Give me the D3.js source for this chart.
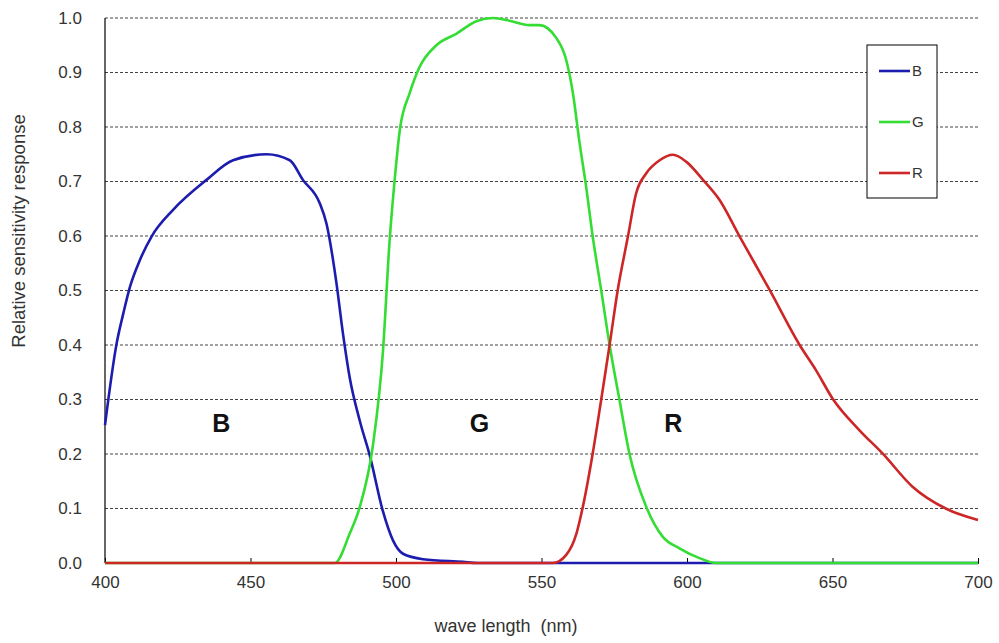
<!DOCTYPE html>
<html lang="en">
<head>
  <meta charset="UTF-8">
  <title>Relative sensitivity response</title>
  <script src="https://cdnjs.cloudflare.com/ajax/libs/d3/7.8.5/d3.min.js"></script>
  <style>
    body { margin: 0; background: #fff; }
    text { font-family: "Liberation Sans", Arial, sans-serif; fill: #333; }
    .grid line { stroke: #444; stroke-width: 1; stroke-dasharray: 3,2; }
    .curve { fill: none; stroke-width: 2.6px; stroke-linejoin: round; }
    .region { font-size: 25px; font-weight: bold; fill: #111; text-anchor: middle; }
  </style>
</head>
<body>
<div id="chart"></div>
<script>
// wavelengths (nm) and relative response
const bNm  = [400, 404, 406.3, 408.6, 412, 416, 423.4, 434.9, 444, 455.5, 463.5, 468, 473.8, 476.1, 479.5, 481.8, 484.1, 487.5, 491, 495.5, 499, 502.4, 509.3, 523, 528, 700];
const bVal = [0.253, 0.403, 0.458, 0.507, 0.556, 0.599, 0.648, 0.703, 0.739, 0.750, 0.739, 0.703, 0.66, 0.623, 0.515, 0.42, 0.34, 0.262, 0.197, 0.095, 0.041, 0.017, 0.007, 0.002, 0, 0];

const gNm  = [400, 479, 484.1, 487.5, 492.1, 495.5, 497.8, 499.6, 501.3, 504.7, 508.1, 513.9, 520.7, 527.6, 533.3, 539, 545.9, 549.3, 555, 558.5, 560.8, 563, 565.3, 567.6, 570.5, 573.4, 576.8, 580.2, 586, 591.7, 597.4, 604.3, 610, 700];
const gVal = [0, 0, 0.054, 0.102, 0.217, 0.387, 0.591, 0.706, 0.794, 0.862, 0.910, 0.950, 0.971, 0.994, 1.0, 0.995, 0.987, 0.987, 0.964, 0.923, 0.862, 0.774, 0.692, 0.599, 0.501, 0.4, 0.299, 0.201, 0.103, 0.048, 0.027, 0.009, 0, 0];

const rNm  = [400, 553.9, 558.5, 562, 564.2, 567.6, 570.5, 573.4, 576.2, 579.7, 582.5, 586, 590.6, 595.2, 599.8, 605.5, 611.2, 618.1, 628.4, 638.7, 644.3, 650, 659.2, 667.2, 677.5, 688.9, 700];
const rVal = [0, 0, 0.015, 0.054, 0.103, 0.201, 0.299, 0.4, 0.501, 0.599, 0.678, 0.715, 0.739, 0.749, 0.736, 0.703, 0.666, 0.599, 0.501, 0.4, 0.354, 0.302, 0.244, 0.201, 0.14, 0.1, 0.079];

const seriesNames  = ["B", "G", "R"];
const seriesColors = ["#1c1caf", "#33dd33", "#cc2626"];
const xTicks = [400, 450, 500, 550, 600, 650, 700];
const yTicks = [0, 0.1, 0.2, 0.3, 0.4, 0.5, 0.6, 0.7, 0.8, 0.9, 1.0];
const regionLabels = [
  {name: "B", nm: 440, v: 0.24},
  {name: "G", nm: 528.7, v: 0.24},
  {name: "R", nm: 595.3, v: 0.24}
];

const width = 999, height = 643;
const margin = {top: 18, right: 21, bottom: 80, left: 105};

const svg = d3.select("#chart").append("svg")
  .attr("width", width)
  .attr("height", height);

const x = d3.scaleLinear().domain([400, 700]).range([margin.left, width - margin.right]);
const y = d3.scaleLinear().domain([0, 1]).range([height - margin.bottom, margin.top]);

// dashed gridlines
svg.append("g").attr("class", "grid")
  .selectAll("line")
  .data(yTicks.filter(t => t > 0))
  .join("line")
  .attr("x1", x(400)).attr("x2", x(700))
  .attr("y1", d => y(d)).attr("y2", d => y(d));

// y tick labels
svg.append("g")
  .selectAll("text")
  .data(yTicks)
  .join("text")
  .attr("x", 82)
  .attr("y", d => y(d))
  .attr("dy", "0.35em")
  .attr("text-anchor", "end")
  .style("font-size", "17px")
  .text(d => d.toFixed(1));

// x axis with inward ticks
const xAxis = svg.append("g")
  .attr("transform", `translate(0,${y(0)})`)
  .call(d3.axisBottom(x).tickValues(xTicks).tickSize(-5).tickPadding(13).tickFormat(d3.format("d")));
xAxis.select(".domain").attr("stroke", "#000");
xAxis.selectAll(".tick line").attr("stroke", "#000");
xAxis.selectAll(".tick text").style("font-size", "17px").attr("fill", "#333")
  .style("font-family", "'Liberation Sans', Arial, sans-serif");

// left axis line
svg.append("line")
  .attr("x1", x(400)).attr("x2", x(400))
  .attr("y1", y(1)).attr("y2", y(0))
  .attr("stroke", "#000").attr("stroke-width", 1.2);

// curves
const seriesData = [
  bNm.map((n, i) => [n, bVal[i]]),
  gNm.map((n, i) => [n, gVal[i]]),
  rNm.map((n, i) => [n, rVal[i]])
];
const line = d3.line()
  .x(d => x(d[0]))
  .y(d => y(d[1]))
  .curve(d3.curveMonotoneX);

svg.append("g")
  .selectAll("path")
  .data(seriesData)
  .join("path")
  .attr("class", "curve")
  .attr("stroke", (d, i) => seriesColors[i])
  .attr("d", line);

// region labels
svg.append("g")
  .selectAll("text")
  .data(regionLabels)
  .join("text")
  .attr("class", "region")
  .attr("x", d => x(d.nm))
  .attr("y", d => y(d.v))
  .text(d => d.name);

// legend
const legend = svg.append("g").attr("transform", "translate(867,45)");
legend.append("rect")
  .attr("width", 70).attr("height", 153)
  .attr("fill", "#fff").attr("stroke", "#000").attr("stroke-width", 1);
seriesNames.forEach((name, i) => {
  const ly = 26 + i * 51;
  legend.append("line")
    .attr("x1", 12).attr("x2", 43)
    .attr("y1", ly).attr("y2", ly)
    .attr("stroke", seriesColors[i]).attr("stroke-width", 2.6);
  legend.append("text")
    .attr("x", 45).attr("y", ly)
    .attr("dy", "0.35em")
    .style("font-size", "15px")
    .text(name);
});

// axis titles
svg.append("text")
  .attr("transform", "translate(25,231) rotate(-90)")
  .attr("text-anchor", "middle")
  .style("font-size", "18.5px")
  .text("Relative sensitivity response");

svg.append("text")
  .attr("x", 506)
  .attr("y", 632)
  .attr("text-anchor", "middle")
  .style("font-size", "18px")
  .style("white-space", "pre")
  .attr("xml:space", "preserve")
  .text("wave length  (nm)");
</script>
</body>
</html>
